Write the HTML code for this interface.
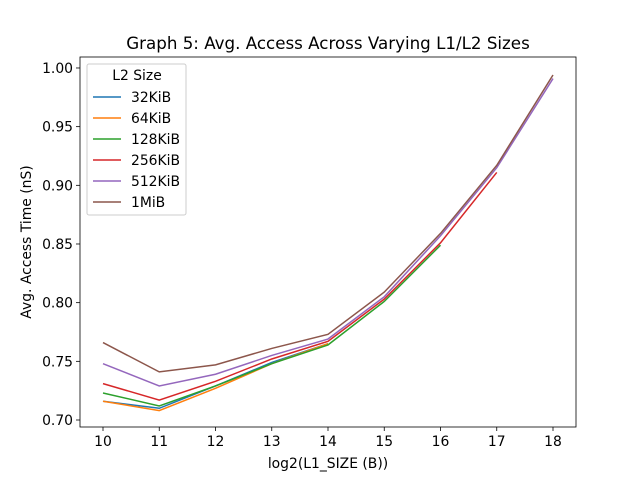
<!DOCTYPE html>
<html><head><meta charset="utf-8"><style>
body{margin:0;background:#fff;font-family:"Liberation Sans","DejaVu Sans",sans-serif}
text{font-family:"DejaVu Sans","Liberation Sans",sans-serif}
</style></head><body>
<svg id="chart" width="640" height="480">
<rect width="640" height="480" fill="#fff"/>
<text x="328" y="49" text-anchor="middle" font-size="16.7">Graph 5: Avg. Access Across Varying L1/L2 Sizes</text>
<g id="plot"></g>
<text x="328" y="468" text-anchor="middle" font-size="13.9">log2(L1_SIZE (B))</text>
<text transform="translate(31,242) rotate(-90)" text-anchor="middle" font-size="13.9">Avg. Access Time (nS)</text>
</svg>
<script>
const xTicks=[10,11,12,13,14,15,16,17,18];
const yTicks=[0.70,0.75,0.80,0.85,0.90,0.95,1.00];
const seriesNames=["32KiB","64KiB","128KiB","256KiB","512KiB","1MiB"];
const colors=["#1f77b4","#ff7f0e","#2ca02c","#d62728","#9467bd","#8c564b"];
const s32=[0.716,0.710,0.729,0.749,0.765];
const s64=[0.716,0.708,0.727,0.748,0.765];
const s128=[0.723,0.712,0.729,0.748,0.764,0.801,0.849];
const s256=[0.731,0.717,0.733,0.752,0.767,0.803,0.851,0.911];
const s512=[0.748,0.729,0.739,0.755,0.769,0.805,0.857,0.915,0.991];
const s1M=[0.766,0.741,0.747,0.761,0.773,0.809,0.859,0.917,0.994];
const allSeries=[s32,s64,s128,s256,s512,s1M];
const NS="http://www.w3.org/2000/svg";
const L=80,R=576,T=57,B=427;
const xs=v=>103+(v-10)*56.25;
const ys=v=>420-(v-0.70)/0.05*58.67;
const g=document.getElementById('plot');
function mk(t,a){const e=document.createElementNS(NS,t);for(const k in a)e.setAttribute(k,a[k]);g.appendChild(e);return e;}
xTicks.forEach(t=>{
 const l=mk('line',{x1:xs(t),x2:xs(t),y1:B,y2:B+4,stroke:'#000','stroke-width':0.8});
 
 
 const tx=mk('text',{x:xs(t),y:B+19,'text-anchor':'middle','font-size':13.9});tx.textContent=t;
 
 
});
yTicks.forEach(t=>{
 const l=mk('line',{x1:L-4,x2:L,y1:ys(t),y2:ys(t),stroke:'#000','stroke-width':0.8});
 
 
 const tx=mk('text',{x:L-7,y:ys(t)+5,'text-anchor':'end','font-size':13.9});tx.textContent=t.toFixed(2);
 
 
});
allSeries.forEach((s,i)=>{
 const p=mk('polyline',{points:s.map((v,j)=>xs(xTicks[j])+','+ys(v)).join(' '),fill:'none',stroke:colors[i],'stroke-width':1.5});
 
 
});
const frame=mk('rect',{x:L,y:T,width:R-L,height:B-T,fill:'none',stroke:'#000','stroke-width':0.8});


const lg=mk('rect',{x:87,y:64,width:99,height:151,fill:'#fff',stroke:'#ccc',rx:2});


const lt=mk('text',{x:137,y:80,'text-anchor':'middle','font-size':13.9});lt.textContent='L2 Size';


seriesNames.forEach((n,i)=>{
 const y=97+i*21;
 const l=mk('line',{x1:93,x2:121,y1:y,y2:y,stroke:colors[i],'stroke-width':1.5});
 
 
 const t=mk('text',{x:131,y:y+5,'font-size':13.9});t.textContent=n;
 
 
});
</script>
</body></html>
